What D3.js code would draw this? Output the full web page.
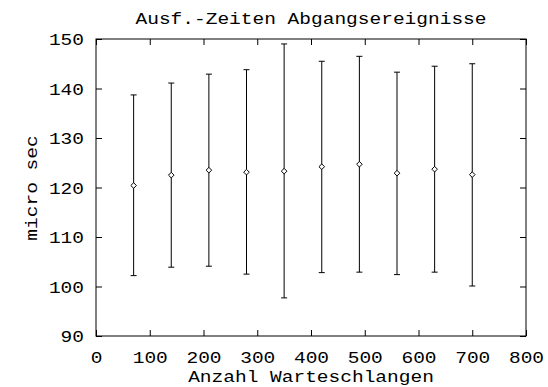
<!DOCTYPE html>
<html>
<head>
<meta charset="utf-8">
<script src="https://cdn.jsdelivr.net/npm/d3@7"></script>
<style>
  html, body { margin: 0; padding: 0; background: #fff; }
  svg { display: block; }
  text { font-family: "Liberation Mono", "Courier New", "DejaVu Sans Mono", monospace; fill: #000; }
</style>
</head>
<body>
<svg id="chart" width="548" height="387"></svg>
<script>
// ---- data ----
const queues = [70, 140, 210, 280, 350, 420, 490, 560, 630, 700];
const means  = [120.4, 122.5, 123.5, 123.1, 123.3, 124.2, 124.7, 122.9, 123.7, 122.6];
const lows   = [102.2, 103.9, 104.1, 102.5, 97.7, 102.8, 102.9, 102.4, 102.9, 100.1];
const highs  = [138.7, 141.1, 142.9, 143.8, 149.0, 145.5, 146.5, 143.3, 144.5, 145.0];
const xTicks = [0, 100, 200, 300, 400, 500, 600, 700, 800];
const yTicks = [90, 100, 110, 120, 130, 140, 150];
const titleText = "Ausf.-Zeiten Abgangsereignisse";
const xLabel = "Anzahl Warteschlangen";
const yLabel = "micro sec";

// ---- layout ----
const L = 96, R = 526, T = 39, B = 336;
const FS = 16, CH = 11.7; // font size, char advance
const svg = d3.select("#chart");
const x = d3.scaleLinear().domain([0, 800]).range([L, R]);
const y = d3.scaleLinear().domain([90, 150]).range([B, T]);

function stretch(sel) {
  sel.style("font-size", FS + "px")
     .attr("textLength", function() { return this.textContent.length * CH; })
     .attr("lengthAdjust", "spacingAndGlyphs");
}

// axes with inward ticks
const gx = svg.append("g").attr("transform", `translate(0,${B})`)
  .call(d3.axisBottom(x).tickValues(xTicks).tickSize(-6).tickSizeOuter(0).tickFormat(d3.format("d")));
gx.select(".domain").remove();
gx.selectAll(".tick line").attr("stroke", "#000");
gx.selectAll(".tick text").attr("y", 27).attr("dy", null).call(stretch);

const gxt = svg.append("g").attr("transform", `translate(0,${T})`)
  .call(d3.axisTop(x).tickValues(xTicks).tickSize(-6).tickSizeOuter(0).tickFormat(""));
gxt.select(".domain").remove();
gxt.selectAll(".tick line").attr("stroke", "#000");

const gy = svg.append("g").attr("transform", `translate(${L},0)`)
  .call(d3.axisLeft(y).tickValues(yTicks).tickSize(-6).tickSizeOuter(0).tickFormat(d3.format("d")));
gy.select(".domain").remove();
gy.selectAll(".tick line").attr("stroke", "#000");
gy.selectAll(".tick text").attr("x", -12).attr("dy", "0.36em").call(stretch);

const gyr = svg.append("g").attr("transform", `translate(${R},0)`)
  .call(d3.axisRight(y).tickValues(yTicks).tickSize(-6).tickSizeOuter(0).tickFormat(""));
gyr.select(".domain").remove();
gyr.selectAll(".tick line").attr("stroke", "#000");

// frame
svg.append("rect").attr("x", L).attr("y", T).attr("width", R - L).attr("height", B - T)
  .attr("fill", "none").attr("stroke", "#000").attr("stroke-width", 1);

// error bars
const data = queues.map((q, i) => ({ q, m: means[i], lo: lows[i], hi: highs[i] }));
const bars = svg.append("g").attr("stroke", "#000").attr("stroke-width", 1);
bars.selectAll("line.v").data(data).join("line").attr("class", "v")
  .attr("x1", d => x(d.q)).attr("x2", d => x(d.q))
  .attr("y1", d => y(d.lo)).attr("y2", d => y(d.hi));
bars.selectAll("line.ch").data(data).join("line").attr("class", "ch")
  .attr("x1", d => x(d.q) - 3).attr("x2", d => x(d.q) + 3)
  .attr("y1", d => y(d.hi)).attr("y2", d => y(d.hi));
bars.selectAll("line.cl").data(data).join("line").attr("class", "cl")
  .attr("x1", d => x(d.q) - 3).attr("x2", d => x(d.q) + 3)
  .attr("y1", d => y(d.lo)).attr("y2", d => y(d.lo));

// points (diamonds)
svg.append("g").selectAll("path").data(data).join("path")
  .attr("d", d => { const cx = x(d.q), cy = y(d.m), s = 2.8;
    return `M${cx},${cy - s}L${cx + s},${cy}L${cx},${cy + s}L${cx - s},${cy}Z`; })
  .attr("fill", "#fff").attr("stroke", "#000").attr("stroke-width", 1);

// title and labels
svg.append("text").attr("x", 311).attr("y", 24).attr("text-anchor", "middle").text(titleText).call(stretch);
svg.append("text").attr("x", 311).attr("y", 382).attr("text-anchor", "middle").text(xLabel).call(stretch);
svg.append("text").attr("transform", "translate(37,188) rotate(-90)").attr("text-anchor", "middle").text(yLabel).call(stretch);
</script>
</body>
</html>
